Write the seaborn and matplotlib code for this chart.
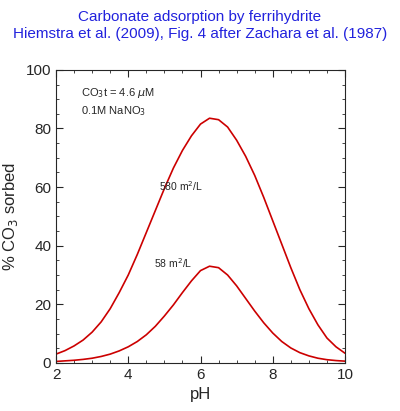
import matplotlib
matplotlib.use("Agg")
import matplotlib.pyplot as plt
import seaborn as sns
from matplotlib.ticker import MultipleLocator

ph = [2, 2.25, 2.5, 2.75, 3, 3.25, 3.5, 3.75, 4, 4.25, 4.5, 4.75, 5, 5.25, 5.5, 5.75,
      6, 6.25, 6.5, 6.75, 7, 7.25, 7.5, 7.75, 8, 8.25, 8.5, 8.75, 9, 9.25, 9.5, 9.75, 10]
sorb_580 = [3, 4.2, 5.8, 7.8, 10.5, 14, 18.5, 24, 30, 37, 44.5, 52, 59.5, 66.5, 72.5, 77.5,
            81.5, 83.5, 83, 80.5, 76, 70.5, 64, 56.5, 48.5, 40.5, 32.5, 25, 18.5, 13, 8.5, 5.5, 3.3]
sorb_58 = [0.5, 0.7, 0.9, 1.2, 1.6, 2.2, 3, 4.1, 5.5, 7.3, 9.6, 12.5, 16, 19.8, 24, 28,
           31.5, 33, 32.5, 30, 26.3, 22, 17.7, 13.7, 10.2, 7.3, 5.1, 3.5, 2.4, 1.6, 1.1, 0.8, 0.6]

sns.set_style("ticks")
plt.rcParams['font.family'] = ['Liberation Sans', 'DejaVu Sans']

fig = plt.figure(figsize=(4, 4.11), dpi=100)
ax = fig.add_axes([0.14, 0.117, 0.7225, 0.713])
sns.lineplot(x=ph, y=sorb_580, ax=ax, color="#cc0000", lw=1.2)
sns.lineplot(x=ph, y=sorb_58, ax=ax, color="#cc0000", lw=1.2)
ax.set_xlim(2, 10)
ax.set_ylim(0, 100)
ax.xaxis.set_major_locator(MultipleLocator(2))
ax.xaxis.set_minor_locator(MultipleLocator(0.5))
ax.yaxis.set_major_locator(MultipleLocator(20))
ax.yaxis.set_minor_locator(MultipleLocator(5))
ax.tick_params(which="both", direction="in", top=True, right=True, labelsize=11)
ax.tick_params(which="major", length=5)
ax.tick_params(which="minor", length=2.5)
for s in ax.spines.values():
    s.set_linewidth(0.8)
ax.set_xlabel("pH", fontsize=12)
ax.set_ylabel("% CO$_3$ sorbed", fontsize=12)
ax.text(2.7, 91, "CO$_3$t = 4.6 $\\mu$M", fontsize=8)
ax.text(2.7, 85, "0.1M NaNO$_3$", fontsize=8)
ax.text(4.85, 58.5, "580 m$^2$/L", fontsize=7.5)
ax.text(4.7, 32.5, "58 m$^2$/L", fontsize=7.5)
fig.text(0.5, 0.975, "Carbonate adsorption by ferrihydrite", color="#2222dd", ha="center", va="top", fontsize=11)
fig.text(0.5, 0.935, "Hiemstra et al. (2009), Fig. 4 after Zachara et al. (1987)", color="#2222dd", ha="center", va="top", fontsize=11)
fig.savefig("out.png", dpi=100)
